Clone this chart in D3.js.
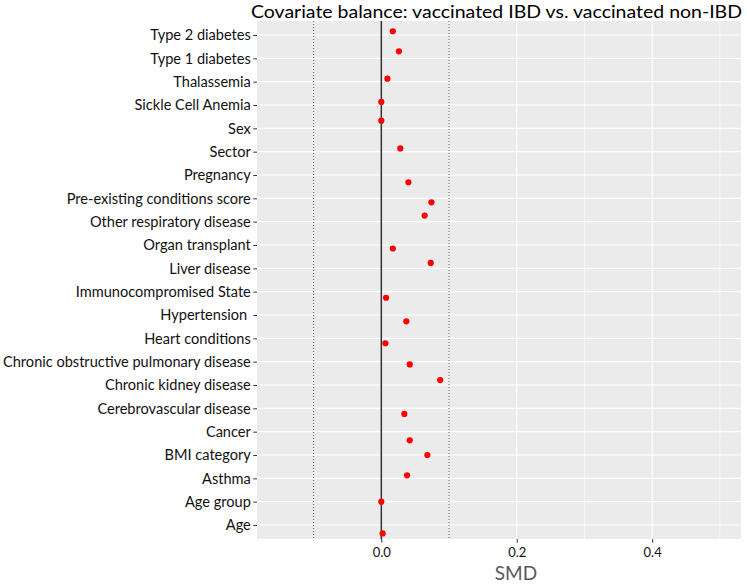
<!DOCTYPE html>
<html><head><meta charset="utf-8">
<script src="https://cdn.jsdelivr.net/npm/d3@7"></script>
<style>
body{margin:0;background:#fff}
svg{display:block}
text{font-family:Lato,"Open Sans",sans-serif}
</style>
</head><body>
<svg id="c" width="747" height="585"></svg>
<script>
// ---- data (top to bottom as displayed) ----
const categories = [
  "Type 2 diabetes","Type 1 diabetes","Thalassemia","Sickle Cell Anemia","Sex","Sector",
  "Pregnancy","Pre-existing conditions score","Other respiratory disease","Organ transplant",
  "Liver disease","Immunocompromised State","Hypertension ","Heart conditions",
  "Chronic obstructive pulmonary disease","Chronic kidney disease","Cerebrovascular disease",
  "Cancer","BMI category","Asthma","Age group","Age"
];
const smd = [
  0.017,0.026,0.009,0.000,0.000,0.028,
  0.040,0.074,0.064,0.017,
  0.073,0.007,0.037,0.006,
  0.042,0.087,0.034,
  0.042,0.068,0.038,0.000,0.002
];
// vertical jitter of each point, in category units (positive = up)
const jitter = [
  0.16,0.30,0.13,0.13,0.33,0.14,
  -0.31,-0.17,0.26,-0.15,
  0.23,-0.26,-0.27,-0.21,
  -0.12,0.21,-0.24,
  -0.37,0.00,0.13,0.00,-0.36
];
const xMajorTicks = [0, 0.2, 0.4];
const xMinorTicks = [-0.1, 0.1, 0.3, 0.5];
const thresholds = [-0.1, 0.1];
const xDomain = [-0.1836, 0.5312];
const titleText = "Covariate balance: vaccinated IBD vs. vaccinated non-IBD";
const xTitle = "SMD";

// ---- layout ----
const svg = d3.select("#c");
const P = {left:257, right:741, top:21, bottom:539};

const x = d3.scaleLinear().domain(xDomain).range([P.left, P.right]);
const y = d3.scalePoint().domain(categories).range([P.top, P.bottom]).padding(0.6);
const step = y.step();

// panel
svg.append("rect").attr("x",P.left).attr("y",P.top)
  .attr("width",P.right-P.left).attr("height",P.bottom-P.top).attr("fill","#EBEBEB");

// minor vertical grid
svg.append("g").selectAll("line").data(xMinorTicks).join("line")
  .attr("x1",d=>x(d)).attr("x2",d=>x(d)).attr("y1",P.top).attr("y2",P.bottom)
  .attr("stroke","#fff").attr("stroke-width",0.6);
// major vertical grid
svg.append("g").selectAll("line").data(xMajorTicks).join("line")
  .attr("x1",d=>x(d)).attr("x2",d=>x(d)).attr("y1",P.top).attr("y2",P.bottom)
  .attr("stroke","#fff").attr("stroke-width",1.1);
// horizontal grid
svg.append("g").selectAll("line").data(categories).join("line")
  .attr("x1",P.left).attr("x2",P.right).attr("y1",d=>y(d)).attr("y2",d=>y(d))
  .attr("stroke","#fff").attr("stroke-width",1.1);

// threshold dotted lines
svg.append("g").selectAll("line").data(thresholds).join("line")
  .attr("x1",d=>x(d)).attr("x2",d=>x(d)).attr("y1",P.top).attr("y2",P.bottom)
  .attr("stroke","#555").attr("stroke-width",1).attr("stroke-dasharray","1,2");

// zero line
svg.append("line").attr("x1",x(0)).attr("x2",x(0)).attr("y1",P.top).attr("y2",P.bottom)
  .attr("stroke","#333").attr("stroke-width",1.5);

// points
svg.append("g").selectAll("circle").data(categories).join("circle")
  .attr("cx",(d,i)=>x(smd[i]))
  .attr("cy",(d,i)=>y(d) - jitter[i]*step)
  .attr("r",3.1).attr("fill","#FF0000");

// x axis
const xAxis = svg.append("g").attr("transform",`translate(0,${P.bottom})`)
  .call(d3.axisBottom(x).tickValues(xMajorTicks).tickFormat(d3.format(".1f")).tickSize(3.7).tickPadding(5.5));
xAxis.select(".domain").remove();
xAxis.selectAll("line").attr("stroke","#333");
xAxis.selectAll("text").attr("fill","#111").style("font-size","13px")
  .style("font-family","Lato,'Open Sans',sans-serif");

// y axis
const yAxis = svg.append("g").attr("transform",`translate(${P.left},0)`)
  .call(d3.axisLeft(y).tickSize(3.7).tickPadding(2.5));
yAxis.select(".domain").remove();
yAxis.selectAll("line").attr("stroke","#333");
const yt = yAxis.selectAll("text").attr("fill","#111").style("white-space","pre")
  .style("font-family","Lato,'Open Sans',sans-serif").style("font-size","14px");
// fit font size so the longest label spans the same width as the reference
let maxW = 0;
yt.each(function(){ maxW = Math.max(maxW, this.getComputedTextLength()); });
const ySize = 14 * 248 / maxW;
yt.style("font-size", ySize + "px");

// x title
svg.append("text").attr("x",516).attr("y",579.5)
  .attr("text-anchor","middle").attr("fill","#595959").style("font-size","19px").text(xTitle);

// title
svg.append("text").attr("x",251).attr("y",17.5)
  .attr("fill","#000").style("font-size","17px")
  .attr("textLength",491).attr("lengthAdjust","spacingAndGlyphs").text(titleText);
</script>
</body></html>
